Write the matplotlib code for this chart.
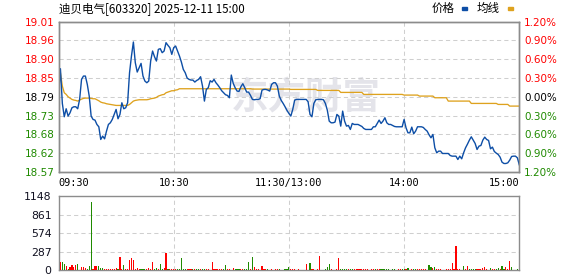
import numpy as np
import matplotlib
matplotlib.use('Agg')
import matplotlib.pyplot as plt
from matplotlib.patches import Rectangle

plt.rcParams['font.family'] = ['DejaVu Sans']

# chart texts
title = '迪贝电气[603320] 2025-12-11 15:00'
prev_close = 18.79
price_labels = ['18.57', '18.62', '18.68', '18.73', '18.79', '18.85', '18.90', '18.96', '19.01']
pct_labels = ['1.20%', '0.90%', '0.60%', '0.30%', '0.00%', '0.30%', '0.60%', '0.90%', '1.20%']
time_labels = ['09:30', '10:30', '11:30/13:00', '14:00', '15:00']
time_pos = [0, 60, 120, 180, 240]
vol_ticks = [0, 287, 574, 861, 1148]

# minute close price, 09:30 .. 15:00 (241 points)
price = [
    18.790, 18.874, 18.770, 18.730, 18.754, 18.732, 18.742, 18.757, 18.760, 18.760,
    18.754, 18.782, 18.842, 18.852, 18.852, 18.827, 18.792, 18.732, 18.722, 18.720,
    18.707, 18.700, 18.662, 18.672, 18.664, 18.687, 18.707, 18.712, 18.722, 18.737,
    18.752, 18.724, 18.737, 18.772, 18.754, 18.757, 18.772, 18.862, 18.912, 18.954,
    18.892, 18.864, 18.877, 18.890, 18.852, 18.837, 18.832, 18.837, 18.897, 18.927,
    18.910, 18.897, 18.932, 18.934, 18.922, 18.927, 18.952, 18.944, 18.937, 18.917,
    18.937, 18.942, 18.927, 18.912, 18.894, 18.872, 18.862, 18.846, 18.842, 18.840,
    18.840, 18.834, 18.839, 18.842, 18.850, 18.822, 18.777, 18.812, 18.817, 18.838,
    18.834, 18.842, 18.832, 18.825, 18.817, 18.808, 18.802, 18.796, 18.794, 18.787,
    18.855, 18.830, 18.817, 18.807, 18.806, 18.820, 18.829, 18.817, 18.804, 18.804,
    18.794, 18.782, 18.781, 18.782, 18.782, 18.784, 18.810, 18.812, 18.812, 18.810,
    18.807, 18.827, 18.832, 18.832, 18.822, 18.792, 18.779, 18.770, 18.760, 18.749,
    18.740, 18.732, 18.752, 18.780, 18.782, 18.782, 18.782, 18.782, 18.782, 18.782,
    18.775, 18.737, 18.730, 18.770, 18.781, 18.782, 18.782, 18.782, 18.781, 18.770,
    18.750, 18.717, 18.712, 18.712, 18.714, 18.737, 18.732, 18.702, 18.747, 18.717,
    18.702, 18.704, 18.692, 18.710, 18.707, 18.707, 18.707, 18.704, 18.701, 18.695,
    18.692, 18.692, 18.692, 18.692, 18.700, 18.700, 18.710, 18.720, 18.710, 18.717,
    18.727, 18.712, 18.707, 18.707, 18.704, 18.701, 18.700, 18.700, 18.700, 18.700,
    18.722, 18.697, 18.682, 18.682, 18.699, 18.679, 18.687, 18.700, 18.700, 18.700,
    18.698, 18.692, 18.687, 18.676, 18.667, 18.677, 18.637, 18.622, 18.627, 18.627,
    18.620, 18.620, 18.620, 18.620, 18.614, 18.612, 18.612, 18.612, 18.602, 18.612,
    18.604, 18.622, 18.637, 18.648, 18.660, 18.670, 18.660, 18.650, 18.632, 18.642,
    18.644, 18.660, 18.669, 18.662, 18.659, 18.634, 18.639, 18.626, 18.621, 18.617,
    18.609, 18.594, 18.590, 18.590, 18.592, 18.600, 18.611, 18.612, 18.612, 18.607,
    18.586,
]

# average price line
avg = [
    18.865, 18.862, 18.822, 18.802, 18.797, 18.790, 18.786, 18.782, 18.780, 18.779,
    18.777, 18.780, 18.783, 18.785, 18.786, 18.786, 18.786, 18.785, 18.784, 18.784,
    18.781, 18.778, 18.774, 18.772, 18.771, 18.769, 18.768, 18.767, 18.766, 18.765,
    18.764, 18.764, 18.764, 18.764, 18.764, 18.764, 18.764, 18.767, 18.772, 18.777,
    18.779, 18.780, 18.781, 18.781, 18.781, 18.781, 18.781, 18.782, 18.784, 18.785,
    18.786, 18.788, 18.792, 18.794, 18.796, 18.797, 18.802, 18.804, 18.806, 18.808,
    18.808, 18.810, 18.811, 18.814, 18.814, 18.814, 18.814, 18.814, 18.814, 18.814,
    18.814, 18.814, 18.814, 18.814, 18.814, 18.814, 18.814, 18.814, 18.814, 18.814,
    18.814, 18.814, 18.814, 18.814, 18.814, 18.814, 18.814, 18.814, 18.814, 18.814,
    18.814, 18.814, 18.814, 18.814, 18.814, 18.814, 18.814, 18.814, 18.814, 18.814,
    18.814, 18.813, 18.813, 18.813, 18.813, 18.813, 18.813, 18.813, 18.813, 18.813,
    18.813, 18.813, 18.813, 18.813, 18.813, 18.813, 18.813, 18.813, 18.813, 18.813,
    18.813, 18.812, 18.812, 18.812, 18.812, 18.812, 18.812, 18.812, 18.812, 18.812,
    18.812, 18.812, 18.812, 18.812, 18.812, 18.809, 18.809, 18.809, 18.809, 18.809,
    18.809, 18.809, 18.809, 18.809, 18.809, 18.809, 18.809, 18.803, 18.803, 18.803,
    18.803, 18.803, 18.803, 18.803, 18.803, 18.803, 18.803, 18.803, 18.803, 18.797,
    18.797, 18.797, 18.797, 18.797, 18.797, 18.797, 18.797, 18.797, 18.797, 18.797,
    18.797, 18.797, 18.797, 18.797, 18.797, 18.797, 18.797, 18.797, 18.797, 18.797,
    18.795, 18.795, 18.795, 18.795, 18.795, 18.795, 18.795, 18.795, 18.792, 18.792,
    18.792, 18.792, 18.792, 18.792, 18.792, 18.792, 18.787, 18.787, 18.787, 18.787,
    18.787, 18.787, 18.787, 18.777, 18.777, 18.777, 18.777, 18.777, 18.777, 18.777,
    18.777, 18.777, 18.777, 18.777, 18.777, 18.770, 18.770, 18.770, 18.770, 18.770,
    18.770, 18.770, 18.770, 18.770, 18.770, 18.770, 18.770, 18.770, 18.770, 18.767,
    18.767, 18.767, 18.767, 18.767, 18.767, 18.762, 18.762, 18.762, 18.762, 18.762,
    18.762,
]

# minute volume (lots) and bar colour (r = up, g = down)
volume = [
    0, 129, 129, 98, 67, 20, 52, 83, 57, 83,
    98, 10, 52, 52, 36, 20, 67, 1065, 20, 67,
    67, 67, 36, 36, 20, 20, 20, 20, 20, 20,
    36, 20, 207, 20, 83, 20, 20, 160, 191, 160,
    20, 36, 20, 20, 20, 20, 20, 36, 20, 129,
    20, 36, 20, 98, 20, 36, 269, 20, 20, 20,
    20, 20, 20, 20, 191, 20, 20, 20, 20, 20,
    20, 20, 20, 20, 20, 20, 20, 20, 20, 10,
    129, 20, 20, 20, 20, 20, 20, 83, 20, 20,
    10, 36, 20, 20, 20, 20, 20, 20, 20, 129,
    20, 207, 52, 20, 20, 10, 67, 20, 20, 20,
    5, 20, 5, 20, 20, 20, 5, 5, 20, 20,
    52, 20, 20, 20, 0, 20, 0, 0, 0, 98,
    5, 114, 20, 20, 0, 20, 222, 0, 0, 20,
    52, 98, 20, 0, 0, 20, 191, 20, 20, 20,
    20, 20, 20, 20, 20, 20, 20, 20, 20, 20,
    20, 20, 0, 20, 20, 20, 20, 20, 20, 20,
    20, 20, 20, 0, 20, 20, 0, 20, 20, 20,
    20, 20, 36, 0, 20, 20, 20, 20, 20, 20,
    20, 20, 0, 83, 52, 36, 52, 20, 20, 20,
    0, 0, 20, 20, 20, 114, 20, 377, 20, 20,
    0, 67, 20, 67, 20, 20, 20, 20, 20, 20,
    20, 36, 52, 20, 0, 36, 20, 20, 20, 36,
    20, 67, 20, 52, 20, 145, 52, 0, 0, 20,
    0,
]
vol_dir = ('rrggrgrrrr' 'ggrrrgggrr' 'rgggrrrrrr' 'rgrrgrrrrr' 'rrrgggrrrr'
           'ggrggrrgrr' 'rrgggggrrr' 'grggrggrrr' 'rrrrrrggrr' 'rrgggrrggg'
           'rgrrrrrrrg' 'grrrrggggg' 'grrrrrrrrr' 'rgrrrrrrrg' 'ggrrrrrggg'
           'grggrrrrrr' 'rrrrrgrrgg' 'gggggggrrg' 'grggrggrrr' 'rrrggrgrrr'
           'rrrrrrrrrr' 'rgrrggggrr' 'rrrrrgrrgg' 'rggrrrgggg' 'g')

RED = '#ff0000'
GREEN = '#1f8a00'
GRID = '#cfcfcf'
FRAME = '#8c8c8c'

W, H = 578, 276
def box(l, t, r, b):
    return [l / W, 1 - b / H, (r - l) / W, (b - t) / H]

fig = plt.figure(figsize=(W / 100, H / 100), dpi=100)
ax = fig.add_axes(box(58.5, 21.5, 519.3, 172))
axv = fig.add_axes(box(58.5, 196.3, 519.3, 270.3))

x = np.arange(len(price))
steps = np.arange(-4, 5)
ticks = prev_close * (1 + steps * 0.003)

# ---- price panel
ax.plot(x, avg, color='#dea21e', lw=0.95, zorder=3)
ax.plot(x, price, color='#0d4ea6', lw=1.0, zorder=4)
ax.set_xlim(0, 240)
ax.set_ylim(ticks[0], ticks[-1])
for t in ticks[1:-1]:
    ax.axhline(t, color=GRID, lw=0.75, dashes=(4, 3), zorder=1)
for p in time_pos[1:-1]:
    ax.axvline(p, color=GRID, lw=0.75, dashes=(4, 3), zorder=1)

ax.text(0.537, 0.49, '东方财富', transform=ax.transAxes, ha='center', va='center',
        fontsize=27, fontweight='bold', color='#e4e4ea', zorder=0.5,
        family=['Noto Sans CJK SC', 'DejaVu Sans'])

ax.set_xticks([])
ax.set_yticks(ticks, price_labels)
ax.tick_params(axis='y', length=0, pad=2.5, labelsize=7.5)
axr = ax.twinx()
axr.set_ylim(ticks[0], ticks[-1])
axr.set_yticks(ticks, pct_labels)
axr.tick_params(axis='y', length=0, pad=3.5, labelsize=7.5)
for k, (lt, rt) in enumerate(zip(ax.get_yticklabels(), axr.get_yticklabels())):
    c = GREEN if steps[k] < 0 else ('black' if steps[k] == 0 else RED)
    lt.set_color(c)
    rt.set_color(c)
for a in (ax, axr):
    for s in a.spines.values():
        s.set_color(FRAME)
        s.set_linewidth(1.0)

for p, lab, ha in zip(time_pos, time_labels, ['left', 'center', 'center', 'center', 'right']):
    ax.text(p, -0.075, lab, transform=ax.get_xaxis_transform(), ha=ha, va='center',
            fontsize=7.4, family='DejaVu Sans Mono')

# ---- volume panel
cols = [RED if d == 'r' else GREEN for d in vol_dir]
axv.bar(x, volume, width=0.6, color=cols, linewidth=0, antialiased=False, zorder=3)
axv.set_xlim(0, 240)
axv.set_ylim(0, vol_ticks[-1])
for t in vol_ticks[1:-1]:
    axv.axhline(t, color=GRID, lw=0.75, dashes=(4, 3), zorder=1)
for p in time_pos[1:-1]:
    axv.axvline(p, color=GRID, lw=0.75, dashes=(4, 3), zorder=1)
axv.set_xticks([])
axv.set_yticks(vol_ticks, [str(v) for v in vol_ticks])
axv.tick_params(axis='y', length=0, pad=5, labelsize=7.8, labelcolor='#101020')
for s in axv.spines.values():
    s.set_color(FRAME)
    s.set_linewidth(1.0)

# ---- header and legend
cjk = ['Noto Sans CJK SC', 'DejaVu Sans']
fig.text(59 / W, 1 - 8.5 / H, title, ha='left', va='center', fontsize=8.3, family=cjk)
fig.text(432 / W, 1 - 8.5 / H, '价格', ha='left', va='center', fontsize=8.3, family=cjk)
fig.text(477 / W, 1 - 8.5 / H, '均线', ha='left', va='center', fontsize=8.3, family=cjk)
fig.patches.append(Rectangle((462 / W, 1 - 10 / H), 5 / W, 2.7 / H,
                             transform=fig.transFigure, color='#0d4ea6'))
fig.patches.append(Rectangle((507.5 / W, 1 - 9.5 / H), 5 / W, 2.2 / H,
                             transform=fig.transFigure, color='#dea21e'))

fig.savefig('out.png', dpi=100)
